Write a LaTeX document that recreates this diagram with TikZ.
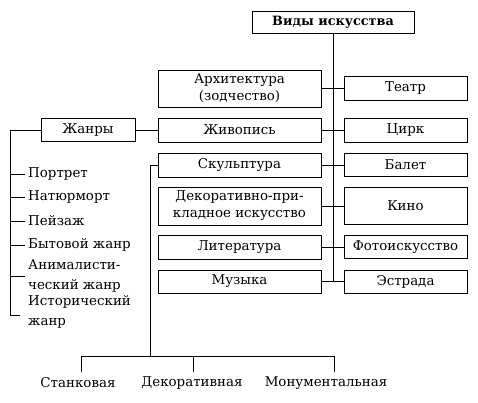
\documentclass[tikz,border=0pt]{standalone}
\usepackage{fontspec}
\setmainfont{DejaVu Serif}
\newcommand{\fs}{\fontsize{13.4}{17}\selectfont}
\newcommand{\fg}{\fontsize{13.4}{20}\selectfont}
\begin{document}
\begin{tikzpicture}[x=1pt,y=-1pt,
  box/.style={draw, line width=0.8pt, inner sep=0pt, align=center, font=\fs},
  lbox/.style={box, minimum width=163pt},
  rbox/.style={box, minimum width=123pt},
  ln/.style={line width=0.75pt},
  lab/.style={inner sep=0pt, font=\fg, align=left, anchor=west}]
\useasboundingbox (0,0) rectangle (478,403);
% top
\node[box, minimum width=162pt, minimum height=22pt, font=\fontsize{12.8}{15}\selectfont\bfseries] (vid) at (333,22) {Виды искусства};
% left column
\node[lbox, minimum height=37pt] (arch) at (239.5,88.5) {Архитектура\\(зодчество)};
\node[lbox, minimum height=24pt] (zhiv) at (239.5,130) {Живопись};
\node[lbox, minimum height=24pt] (skul) at (239.5,165) {Скульптура};
\node[lbox, minimum height=38pt] (dek) at (239.5,206) {Декоративно-при-\\кладное искусство};
\node[lbox, minimum height=24pt] (lit) at (239.5,247) {Литература};
\node[lbox, minimum height=23pt] (muz) at (239.5,281.5) {Музыка};
% right column
\node[rbox, minimum height=24pt] (teatr) at (405.5,88.5) {Театр};
\node[rbox, minimum height=24pt] (cirk) at (405.5,130) {Цирк};
\node[rbox, minimum height=23pt] (balet) at (405.5,165) {Балет};
\node[rbox, minimum height=37pt] (kino) at (405.5,206) {Кино};
\node[rbox, minimum height=23pt] (foto) at (405.5,247) {Фотоискусство};
\node[rbox, minimum height=23pt] (estr) at (405.5,281.5) {Эстрада};
% spine
\coordinate (sp) at (333,0);
\draw[ln] (sp |- vid.south) -- (sp |- muz.east);
\foreach \a/\b in {arch/teatr, zhiv/cirk, skul/balet, dek/kino, lit/foto, muz/estr}
  \draw[ln] (\a.east) -- (\b.west);
% genres
\node[box, minimum width=94pt, minimum height=23pt] (zhanry) at (88,130) {Жанры};
\draw[ln] (zhanry.east) -- (zhiv.west);
\node[lab] (g1) at (28,174) {Портрет};
\node[lab] (g2) at (28,197) {Натюрморт};
\node[lab] (g3) at (28,221) {Пейзаж};
\node[lab] (g4) at (28,245) {Бытовой жанр};
\node[lab] (g5) at (28,276) {Анималисти-\\ческий жанр};
\node[lab] (g6) at (28,312) {Исторический\\жанр};
\coordinate (bt) at (10,130);
\coordinate (bb) at (10,315);
\draw[ln] (zhanry.west) -- (bt) -- (bb) -- ++(10,0);
\foreach \g in {g1,g2,g3,g4,g5}
  \draw[ln] (bt |- \g.west) -- ([xshift=-3pt]\g.west);
% sculpture types
\coordinate (sk) at (150,165);
\coordinate (bar) at (150,356);
\coordinate (b1) at (81,356);
\coordinate (b2) at (193,356);
\coordinate (b3) at (334,356);
\coordinate (d1) at (81,372);
\coordinate (d2) at (193,372);
\coordinate (d3) at (334,372);
\draw[ln] (skul.west) -- (sk) -- (bar);
\draw[ln] (d1) -- (b1) -- (b3) -- (d3);
\draw[ln] (b2) -- (d2);
\node[inner sep=0pt, font=\fs] (stan) at (78,383) {Станковая};
\node[inner sep=0pt, font=\fs] (dekor) at (192,383) {Декоративная};
\node[inner sep=0pt, font=\fs] (monu) at (326,383) {Монументальная};
\end{tikzpicture}
\end{document}
